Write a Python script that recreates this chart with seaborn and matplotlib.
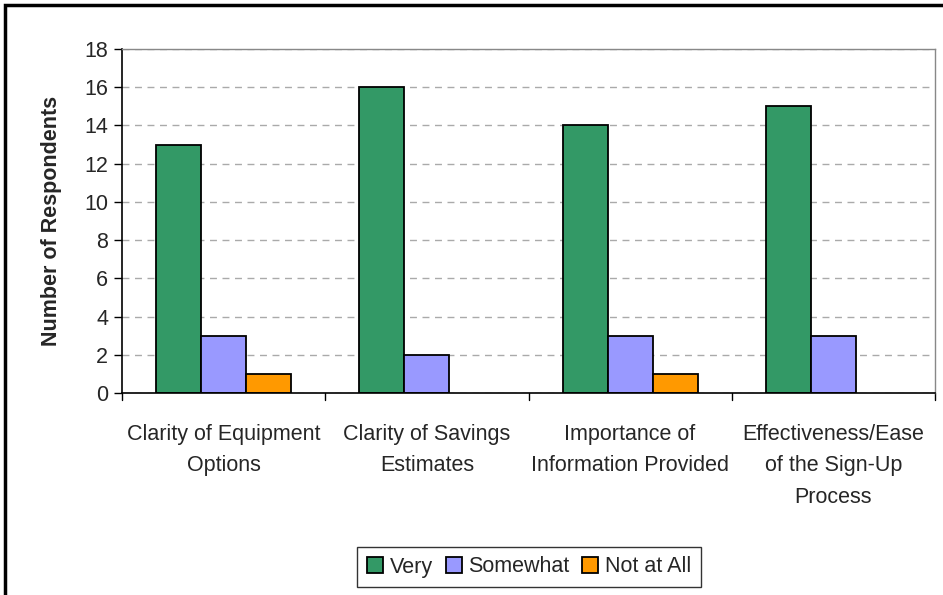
import matplotlib
matplotlib.use("Agg")
import matplotlib.pyplot as plt
import seaborn as sns
import pandas as pd
from matplotlib.patches import Rectangle, Patch

categories = ["Clarity of Equipment\nOptions", "Clarity of Savings\nEstimates",
              "Importance of\nInformation Provided", "Effectiveness/Ease\nof the Sign-Up\nProcess"]
series = ["Very", "Somewhat", "Not at All"]
very = [13, 16, 14, 15]
somewhat = [3, 2, 3, 3]
not_at_all = [1, 0, 1, 0]
colors = ["#339966", "#9999FF", "#FF9900"]

rows = []
for name, vals in zip(series, [very, somewhat, not_at_all]):
    for c, v in zip(categories, vals):
        rows.append({"Category": c, "Rating": name, "Count": v})
df = pd.DataFrame(rows)

sns.set_style("white")
plt.rcParams["font.family"] = ["Liberation Sans", "DejaVu Sans"]

fig = plt.figure(figsize=(9.43, 5.95), dpi=100)
ax = fig.add_axes([122 / 943, 1 - 393 / 595, 813 / 943, 344 / 595])

sns.barplot(data=df, x="Category", y="Count", hue="Rating", palette=colors,
            width=0.665, edgecolor="black", linewidth=1.3, ax=ax, legend=False,
            saturation=1)

# Zero-height bars are not drawn
for p in ax.patches:
    if p.get_height() == 0:
        p.set_visible(False)

ax.set_ylim(0, 18)
ax.set_xlim(-0.5, 3.5)
ax.set_yticks(range(0, 19, 2))
ax.yaxis.grid(True, linestyle=(0, (5, 4)), color="#aaaaaa", linewidth=1)
ax.set_axisbelow(True)
ax.tick_params(axis="y", labelsize=15.5, length=6, width=1, color="black", direction="out", left=True, pad=4)
ax.tick_params(axis="x", labelsize=15.5, length=0, pad=22)
for lbl in ax.get_xticklabels():
    lbl.set_linespacing(1.68)
    lbl.set_verticalalignment("top")

# Category boundary ticks on the x axis
for xb in [-0.5, 0.5, 1.5, 2.5, 3.5]:
    ax.plot([xb, xb], [0, -0.35], color="black", lw=1, clip_on=False)

for side in ["left", "bottom"]:
    ax.spines[side].set_color("black")
    ax.spines[side].set_linewidth(1.2)
for side in ["top", "right"]:
    ax.spines[side].set_visible(True)
    ax.spines[side].set_color("#888888")
    ax.spines[side].set_linewidth(1)

ax.set_xlabel("")
ax.set_ylabel("Number of Respondents", fontsize=15.5, fontweight="bold", labelpad=16)

handles = [Patch(facecolor=c, edgecolor="black", linewidth=1.3) for c in colors]
leg = ax.legend(handles, series, loc="center", bbox_to_anchor=(529 / 943, 1 - 567 / 595),
                bbox_transform=fig.transFigure, ncol=3, frameon=True, fancybox=False,
                edgecolor="black", fontsize=15.5, handlelength=0.75, handleheight=0.75,
                handletextpad=0.3, columnspacing=0.6, borderpad=0.45, borderaxespad=0)
leg.get_frame().set_linewidth(1)

# Outer chart border
fig.patches.append(Rectangle((5 / 943, -0.1), 1.1, 1 - 5 / 595 + 0.1, transform=fig.transFigure,
                             fill=False, edgecolor="black", linewidth=2.5))

fig.savefig("out.png", dpi=100)
